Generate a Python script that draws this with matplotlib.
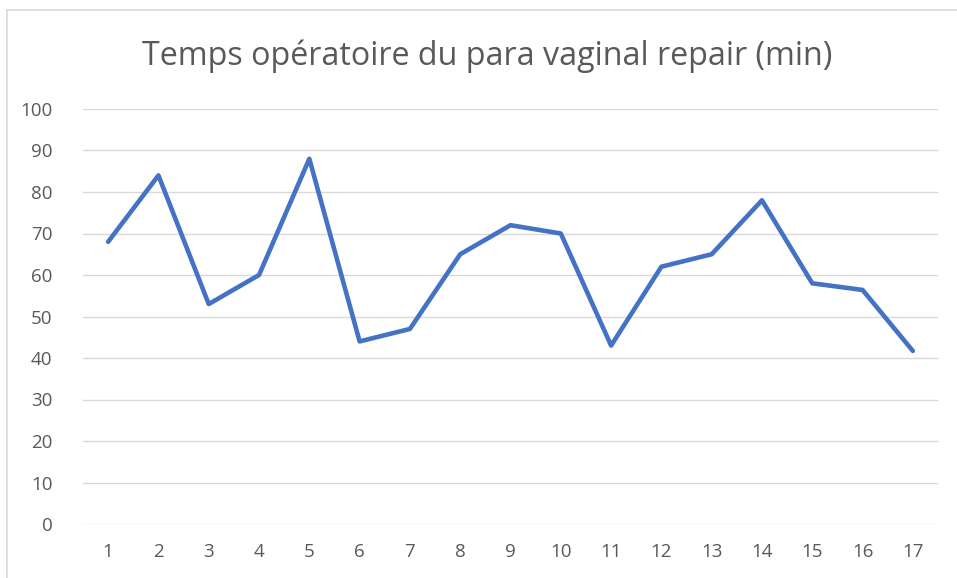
import matplotlib
matplotlib.use("Agg")
import matplotlib.pyplot as plt
from matplotlib.lines import Line2D

categories = [str(i) for i in range(1, 18)]
values = [68, 84, 53, 60, 88, 44, 47, 65, 72, 70, 43, 62, 65, 78, 58, 56.4, 41.7]
yticks = [0, 10, 20, 30, 40, 50, 60, 70, 80, 90, 100]
title = "Temps opératoire du para vaginal repair (min)"

plt.rcParams['font.family'] = ['Open Sans', 'DejaVu Sans']

W, H = 957, 578
fig = plt.figure(figsize=(W / 100, H / 100), dpi=100)
ax = fig.add_axes([83 / W, 1 - 524 / H, (938 - 83) / W, (524 - 109) / H])

x = list(range(1, len(categories) + 1))
ax.plot(x, values, color='#4472C4', linewidth=3.3, solid_joinstyle='round', solid_capstyle='round', zorder=3)

ax.set_xlim(0.5, len(categories) + 0.5)
ax.set_ylim(0, 100)
ax.set_yticks(yticks)
ax.set_xticks(x)
ax.set_xticklabels(categories)
ax.yaxis.grid(True, color='#D9D9D9', linewidth=1.0)
ax.set_axisbelow(True)
for s in ax.spines.values():
    s.set_visible(False)
ax.tick_params(axis='both', length=0, labelsize=13.5, colors='#595959')
ax.tick_params(axis='y', pad=22)
ax.tick_params(axis='x', pad=14)

fig.text(487 / W, 1 - 56 / H, title, ha='center', va='center', fontsize=23.2, color='#595959')

# chart border (top and left visible)
fig.add_artist(Line2D([7 / W, 7 / W], [0, 1 - 10 / H], transform=fig.transFigure, color='#D9D9D9', linewidth=1.2))
fig.add_artist(Line2D([7 / W, 1], [1 - 10 / H, 1 - 10 / H], transform=fig.transFigure, color='#D9D9D9', linewidth=1.2))

fig.savefig("out.png", dpi=100)
